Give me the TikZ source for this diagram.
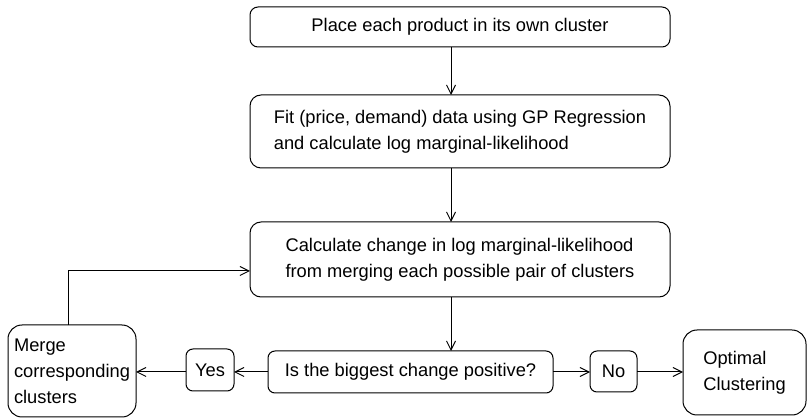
\documentclass[tikz,border=0pt]{standalone}
\usepackage{fontspec}
\setmainfont{Liberation Sans}
\usetikzlibrary{arrows.meta}
\begin{document}
\begin{tikzpicture}[x=1pt,y=-1pt, line width=1pt,
  box/.style={draw, rounded corners=#1, inner sep=0pt, outer sep=0pt, align=left,
    font=\fontsize{18.3}{26}\selectfont},
  box/.default=8pt,
  arr/.style={-{Straight Barb[length=9pt,width=9pt]}}]
\useasboundingbox (0,0) rectangle (809,419);
\node[box=8pt, minimum width=420pt, minimum height=40pt] (b1) at (460,27) {Place each product in its own cluster};
\node[box=11pt, minimum width=420pt, minimum height=73pt] (b2) at (460,131.5) {Fit (price, demand) data using GP Regression\\and calculate log marginal-likelihood};
\node[box=11pt, minimum width=420pt, minimum height=75pt] (b3) at (460,259.5) {Calculate change in log marginal-likelihood\\from merging each possible pair of clusters};
\node[box=7pt, minimum width=285pt, minimum height=42pt] (dec) at (410.5,372) {Is the biggest change positive?};
\node[box=7pt, minimum width=48pt, minimum height=42pt] (yes) at (210,370) {Yes};
\node[box=7pt, minimum width=47pt, minimum height=41pt] (no) at (613.5,371.5) {No};
\node[box=14pt, minimum width=128pt, minimum height=92pt] (merge) at (72,371) {Merge\\corresponding\\clusters};
\node[box=14pt, minimum width=123pt, minimum height=85pt] (opt) at (744.5,372.5) {Optimal\\Clustering};
\coordinate (ax) at (451,0);
\draw[arr] (b1.south -| ax) -- (b2.north -| ax);
\draw[arr] (b2.south -| ax) -- (b3.north -| ax);
\draw[arr] (b3.south -| ax) -- (dec.north -| ax);
\coordinate (hy) at (0,372);
\draw[arr] (dec.west |- hy) -- (yes.east |- hy);
\draw[arr] (yes.west |- hy) -- (merge.east |- hy);
\draw[arr] (dec.east |- hy) -- (no.west |- hy);
\draw[arr] (no.east |- hy) -- (opt.west |- hy);
\coordinate (lx) at (68,271);
\draw[arr] (merge.north -| lx) -- (lx) -- (b3.west |- lx);
\end{tikzpicture}
\end{document}
